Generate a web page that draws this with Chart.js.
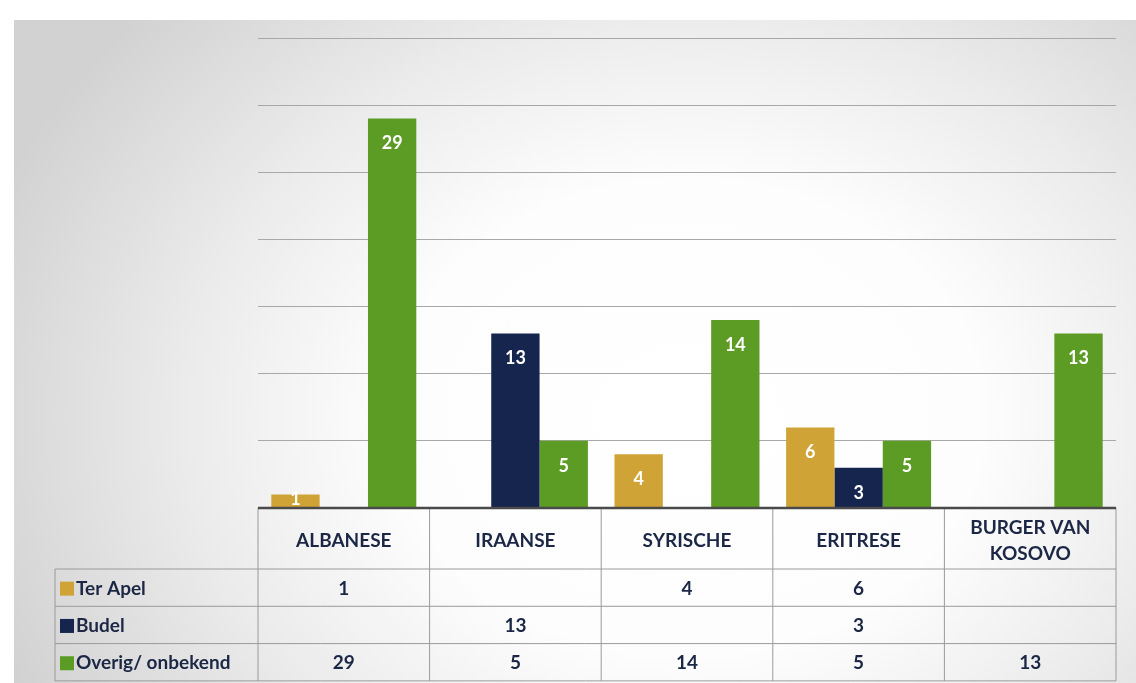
<!DOCTYPE html>
<html>
<head>
<meta charset="utf-8">
<script src="https://cdn.jsdelivr.net/npm/chart.js@4"></script>
<style>
  html, body { margin: 0; padding: 0; background: #fff; }
  #paper {
    position: absolute; left: 14px; top: 20px; width: 1122px; height: 663px;
    background: radial-gradient(ellipse 66% 90% at 60% 60%, #ffffff 0%, #fdfdfd 40%, #ebebeb 68%, #d2d2d2 100%);
  }
  #wrap { position: absolute; left: 0; top: 0; width: 1136px; height: 683px; }
</style>
</head>
<body>
<div id="paper"></div>
<div id="wrap"><canvas id="chart"></canvas></div>
<script>
// data
const categories = [['ALBANESE'], ['IRAANSE'], ['SYRISCHE'], ['ERITRESE'], ['BURGER VAN', 'KOSOVO']];
const seriesNames = ['Ter Apel', 'Budel', 'Overig/ onbekend'];
const terApel = [1, null, 4, 6, null];
const budel = [null, 13, null, 3, null];
const overig = [29, 5, 14, 5, 13];
const seriesColors = ['#cfa336', '#15254d', '#5c9c25'];

const textColor = '#1b2745';
const fontFamily = 'Lato, "Open Sans", sans-serif';

// white value labels inside the top of each bar
const barLabels = {
    id: 'barLabels',
    afterDatasetsDraw(chart) {
        const ctx = chart.ctx;
        ctx.save();
        ctx.fillStyle = '#fff';
        ctx.font = 'bold 18px ' + fontFamily;
        ctx.textAlign = 'center';
        ctx.textBaseline = 'middle';
        chart.data.datasets.forEach((ds, i) => {
            chart.getDatasetMeta(i).data.forEach((bar, j) => {
                if (ds.data[j] == null) return;
                ctx.fillText(ds.data[j], bar.x, Math.min(bar.y + 25, bar.base - 8));
            });
        });
        ctx.restore();
    }
};

// data table under the plot
const dataTable = {
    id: 'dataTable',
    afterDraw(chart) {
        const ctx = chart.ctx;
        const x = chart.scales.x;
        const area = chart.chartArea;
        const n = categories.length;
        const step = x.getPixelForValue(1) - x.getPixelForValue(0);
        const edges = [];
        for (let i = 0; i <= n; i++) {
            edges.push(x.getPixelForValue(0) - step / 2 + i * step);
        }
        const top = area.bottom;
        const headBottom = top + 61;
        const rowH = 37.3;
        const left = 55;
        const rows = [terApel, budel, overig];

        ctx.save();
        ctx.strokeStyle = '#9a9a9a';
        ctx.lineWidth = 1;
        // vertical lines
        edges.forEach((ex) => {
            ctx.beginPath();
            ctx.moveTo(ex, top);
            ctx.lineTo(ex, headBottom + rowH * 3);
            ctx.stroke();
        });
        ctx.beginPath();
        ctx.moveTo(left, headBottom);
        ctx.lineTo(left, headBottom + rowH * 3);
        ctx.stroke();
        // horizontal lines
        for (let r = 0; r <= 3; r++) {
            const y = headBottom + r * rowH;
            ctx.beginPath();
            ctx.moveTo(left, y);
            ctx.lineTo(edges[n], y);
            ctx.stroke();
        }
        // top border
        ctx.strokeStyle = '#4a4a4a';
        ctx.lineWidth = 2.5;
        ctx.beginPath();
        ctx.moveTo(edges[0], top);
        ctx.lineTo(edges[n], top);
        ctx.stroke();

        ctx.fillStyle = textColor;
        ctx.font = 'bold 19px ' + fontFamily;
        ctx.textAlign = 'center';
        ctx.textBaseline = 'middle';
        categories.forEach((lines, i) => {
            const cx = (edges[i] + edges[i + 1]) / 2;
            const mid = (top + headBottom) / 2 + 2;
            lines.forEach((t, k) => {
                ctx.fillText(t, cx, mid + (k - (lines.length - 1) / 2) * 26);
            });
        });
        rows.forEach((vals, r) => {
            const cy = headBottom + r * rowH + rowH / 2 + 1;
            ctx.fillStyle = seriesColors[r];
            ctx.fillRect(left + 5, cy - 7, 14, 14);
            ctx.fillStyle = textColor;
            ctx.textAlign = 'left';
            ctx.fillText(seriesNames[r], left + 21, cy);
            ctx.textAlign = 'center';
            vals.forEach((v, i) => {
                if (v == null) return;
                ctx.fillText(v, (edges[i] + edges[i + 1]) / 2, cy);
            });
        });
        ctx.restore();
    }
};

new Chart(document.getElementById('chart'), {
    type: 'bar',
    data: {
        labels: categories,
        datasets: [
            { label: seriesNames[0], data: terApel, backgroundColor: seriesColors[0] },
            { label: seriesNames[1], data: budel, backgroundColor: seriesColors[1] },
            { label: seriesNames[2], data: overig, backgroundColor: seriesColors[2] }
        ]
    },
    options: {
        responsive: true,
        maintainAspectRatio: false,
        animation: false,
        categoryPercentage: 0.845,
        barPercentage: 1.0,
        layout: { padding: { left: 258, right: 20, top: 38, bottom: 167 } },
        scales: {
            x: {
                ticks: { display: false },
                grid: { display: false },
                border: { display: false }
            },
            y: {
                min: 0,
                max: 35,
                ticks: { display: false, stepSize: 5 },
                grid: {
                    color: (c) => c.tick.value === 0 ? 'rgba(0,0,0,0)' : '#a8a8a8',
                    drawTicks: false
                },
                border: { display: false }
            }
        },
        plugins: {
            legend: { display: false },
            tooltip: { enabled: false }
        }
    },
    plugins: [barLabels, dataTable]
});
</script>
</body>
</html>
